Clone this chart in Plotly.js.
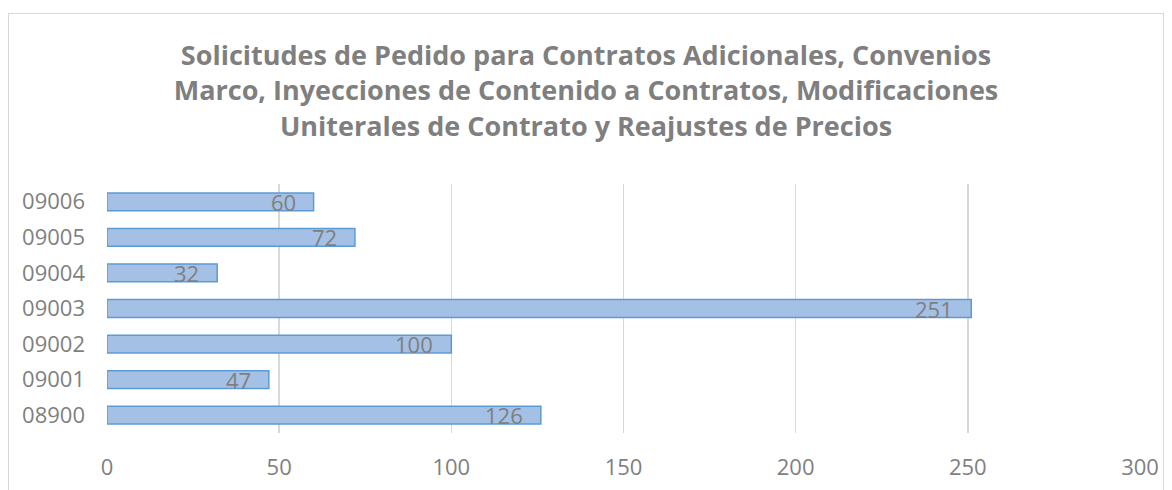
<!DOCTYPE html>
<html><head><meta charset="utf-8">
<script src="https://cdn.plot.ly/plotly-3.0.1.min.js"></script>
<style>
html,body{margin:0;padding:0;background:#fff;overflow:hidden;}
#frame{position:absolute;left:8px;top:13px;width:1154px;height:480px;border:1px solid #d9d9d9;}
#chart{width:1154px;height:480px;}
</style></head>
<body>
<div id="frame"><div id="chart"></div></div>
<script>
const categories = ["08900","09001","09002","09003","09004","09005","09006"];
const values = [126, 47, 100, 251, 32, 72, 60];
const xTicks = [0, 50, 100, 150, 200, 250, 300];
const titleText = "Solicitudes de Pedido para Contratos Adicionales, Convenios<br>Marco, Inyecciones de Contenido a Contratos, Modificaciones<br>Uniterales de Contrato y Reajustes de Precios";

const font = "Open Sans, Liberation Sans, sans-serif";
const gray = "#7f7f7f";

const trace = {
  type: "bar", orientation: "h",
  x: values, y: categories,
  width: 0.5,
  marker: {color: "#a4c0e4", line: {color: "#5b9bd5", width: 1.5}},
  hoverinfo: "none"
};

const annotations = values.map((v, i) => ({
  x: v, y: i, xref: "x", yref: "y",
  text: String(v), showarrow: false, xanchor: "right", xshift: -16, yshift: 0,
  font: {family: font, size: 22, color: gray}
}));

const layout = {
  width: 1154, height: 480,
  margin: {l: 98, r: 23, t: 170, b: 61},
  paper_bgcolor: "rgba(0,0,0,0)", plot_bgcolor: "#fff",
  title: {text: titleText, x: 0.5, xanchor: "center", y: 0.893, yref: "container", yanchor: "top",
          font: {family: font, size: 27, color: gray, weight: "bold"}},
  xaxis: {range: [0, 300], tickvals: xTicks, showgrid: true, gridcolor: "#d9d9d9", gridwidth: 1.5,
          zeroline: false, showline: false, ticks: "", ticklabelstandoff: 19,
          tickfont: {family: font, size: 22, color: gray}, fixedrange: true},
  yaxis: {type: "category", categoryorder: "array", categoryarray: categories, range: [-0.5, 6.5],
          showgrid: false, zeroline: false, showline: false, ticks: "", ticklabelstandoff: 21,
          tickfont: {family: font, size: 22, color: gray}, fixedrange: true},
  annotations: annotations,
  showlegend: false
};

Plotly.newPlot("chart", [trace], layout, {displayModeBar: false, staticPlot: true});
</script>
</body></html>
